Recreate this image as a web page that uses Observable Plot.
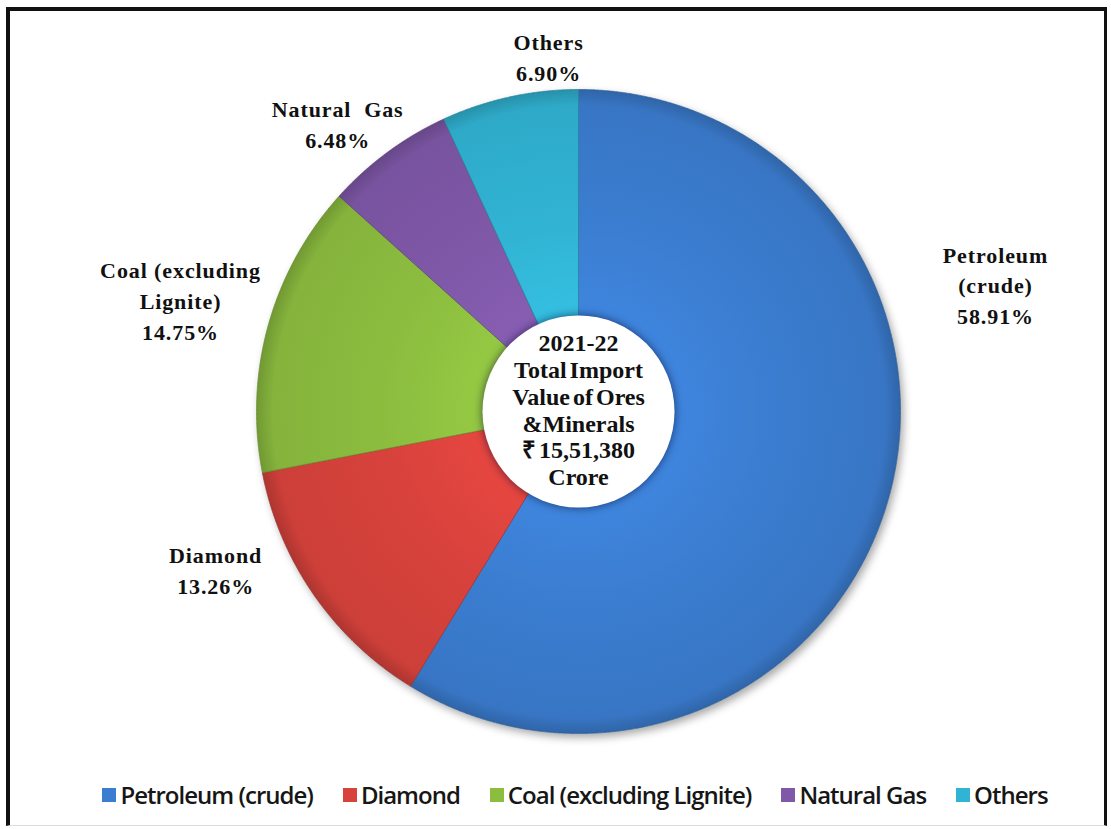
<!DOCTYPE html>
<html><head><meta charset="utf-8">
<script src="https://cdn.jsdelivr.net/npm/d3@7"></script>
<script src="https://cdn.jsdelivr.net/npm/@observablehq/plot@0.6"></script>
<style>
body{margin:0;background:#fff;width:1111px;height:829px;overflow:hidden;position:relative;}
#frame{position:absolute;left:6px;top:7px;width:1101px;height:819px;border-left:4px solid #111;border-top:4px solid #111;border-right:3px solid #111;border-bottom:1px solid #ddd;box-sizing:border-box;pointer-events:none;}
#chart{position:absolute;left:0;top:0;}
#legend{position:absolute;left:0;top:778px;width:1150px;display:flex;justify-content:center;align-items:center;font-family:"Open Sans",sans-serif;font-weight:600;font-size:24px;letter-spacing:-1px;color:#161616;}
#legend .item{display:flex;align-items:center;margin:0 15px;}
#legend .sw{width:14px;height:14px;margin-right:4px;}
</style></head>
<body>
<div id="chart"></div>
<div id="legend"></div>
<div id="frame"></div>
<script>
const categories = ["Petroleum (crude)", "Diamond", "Coal (excluding Lignite)", "Natural Gas", "Others"];
const shares = [58.91, 13.26, 14.75, 6.48, 6.90];
const labelNames = ["Petroleum\n(crude)", "Diamond", "Coal (excluding\nLignite)", "Natural  Gas", "Others"];
const centerLines = ["2021-22", "Total Import", "Value of Ores", "&Minerals", "\u20B9 15,51,380", "Crore"];
const colors = ["#3b7dd0", "#d8423c", "#8cbd3f", "#7f58a8", "#31b3d3"];

// layout (unit offsets from pie centre, in radii)
const labelAnchor = [[1.295, 0.388], [-1.127, -0.497], [-1.236, 0.339], [-0.748, 0.888], [-0.093, 1.096]];
const cx = 578, cy = 411, R = 322, holeR = 96;

const rows = categories.map((c, i) => ({category: c, share: shares[i]}));
const arcs = d3.pie().sort(null).value(d => d.share)(rows);

const slices = arcs.map((a, i) => {
  const n = Math.ceil((a.endAngle - a.startAngle) / 0.004);
  const pts = [{x: 0, y: 0}];
  for (let k = 0; k <= n; k++) {
    const t = a.startAngle + (a.endAngle - a.startAngle) * k / n;
    pts.push({x: Math.sin(t), y: Math.cos(t)});
  }
  pts.push({x: 0, y: 0});
  return pts;
});

const labels = rows.map((r, i) => ({
  x: labelAnchor[i][0], y: labelAnchor[i][1],
  text: labelNames[i] + "\n" + r.share.toFixed(2) + "%"
}));

const svg = Plot.plot({
  width: 1111, height: 770, margin: 0,
  x: {domain: [-1, 1], range: [cx - R, cx + R], axis: null},
  y: {domain: [-1, 1], range: [cy + R, cy - R], axis: null},
  style: {background: "transparent", overflow: "visible"},
  marks: [
    Plot.dot([{x: 0, y: 0}], {x: "x", y: "y", r: R, fill: "#fff", stroke: "none"}),
    ...slices.map((pts, i) => Plot.line(pts, {
      x: "x", y: "y", curve: "linear",
      fill: `url(#grad${i})`,
      stroke: d3.color(colors[i]).darker(0.9).formatHex(),
      strokeWidth: 1, strokeOpacity: 0.7, strokeLinejoin: "round"
    })),
    Plot.dot([{x: 0, y: 0}], {x: "x", y: "y", r: holeR, fill: "#fff", stroke: "none"}),
    Plot.text([{x: 0, y: 0, text: centerLines.join("\n")}], {
      x: "x", y: "y", text: "text", lineHeight: 1.12, dy: -2,
      fontFamily: "Liberation Serif", fontWeight: "bold", fontSize: 24, fill: "#111"
    }),
    Plot.text(labels, {
      x: "x", y: "y", text: "text", lineHeight: 1.4, dy: -3,
      fontFamily: "Liberation Serif", fontWeight: "bold", fontSize: 22, fill: "#111"
    })
  ]
});

const defs = d3.select(svg).insert("defs", ":first-child");
colors.forEach((c, i) => {
  const g = defs.append("radialGradient").attr("id", "grad" + i)
    .attr("gradientUnits", "userSpaceOnUse").attr("cx", cx).attr("cy", cy).attr("r", R);
  g.append("stop").attr("offset", "0").attr("stop-color", d3.color(c).brighter(0.35).formatHex());
  g.append("stop").attr("offset", "0.6").attr("stop-color", c);
  g.append("stop").attr("offset", "0.95").attr("stop-color", d3.color(c).darker(0.15).formatHex());
  g.append("stop").attr("offset", "1").attr("stop-color", d3.color(c).darker(0.6).formatHex());
});
const dots = svg.querySelectorAll('g[aria-label="dot"]');
if (dots[0]) dots[0].style.filter = "drop-shadow(3px 4px 4px rgba(0,0,0,0.35))";
if (dots[1]) dots[1].style.filter = "drop-shadow(0px 0px 5px rgba(0,0,40,0.6))";
const texts = svg.querySelectorAll('g[aria-label="text"]');
if (texts[0]) { texts[0].style.letterSpacing = "0px"; texts[0].style.wordSpacing = "-3px"; }
if (texts[1]) { texts[1].style.letterSpacing = "0.9px"; }
document.getElementById("chart").appendChild(svg);

const legend = d3.select("#legend");
categories.forEach((c, i) => {
  const it = legend.append("div").attr("class", "item");
  it.append("div").attr("class", "sw").style("background", colors[i]);
  it.append("span").text(c);
});
</script>
</body></html>
